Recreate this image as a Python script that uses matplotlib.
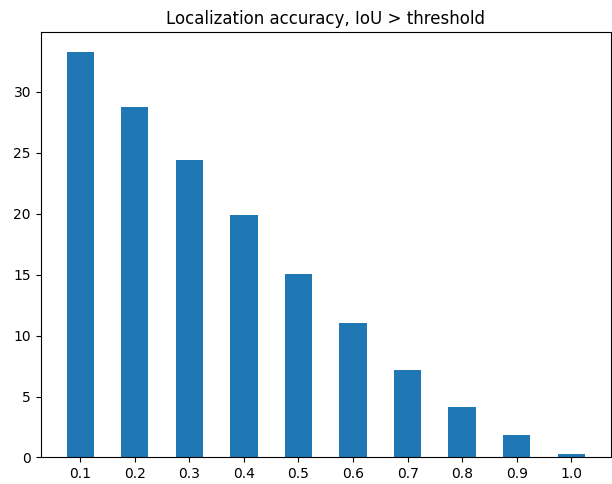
import matplotlib
matplotlib.use("Agg")
import matplotlib.pyplot as plt

# Umbrales de IoU y porcentaje de aciertos
umbrales = ['0.1', '0.2', '0.3', '0.4', '0.5', '0.6', '0.7', '0.8', '0.9', '1.0']
precision = [33.3, 28.8, 24.45, 19.9, 15.09, 11.02, 7.16, 4.12, 1.85, 0.26]

fig, ax = plt.subplots(figsize=(6.12, 4.84), dpi=100)
posiciones = range(len(umbrales))
ax.bar(posiciones, precision, width=0.5, color='#1f77b4')
ax.set_xticks(list(posiciones))
ax.set_xticklabels(umbrales)
ax.set_ylim(0, 34.88)
ax.set_title('Localization accuracy, IoU > threshold')

fig.subplots_adjust(left=0.0665, right=0.998, top=0.933, bottom=0.0548)
plt.savefig('out.png')
plt.close()
